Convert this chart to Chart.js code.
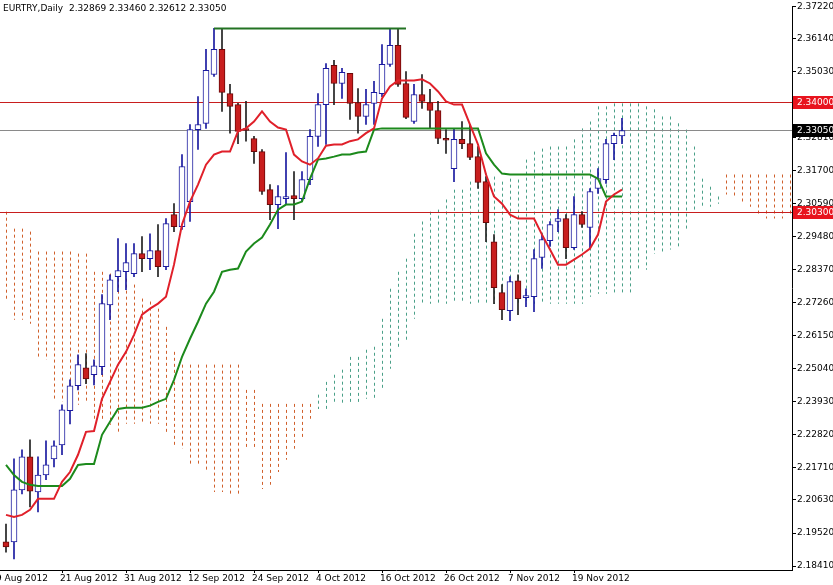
<!DOCTYPE html>
<html>
<head>
<meta charset="utf-8">
<script src="https://cdn.jsdelivr.net/npm/chart.js@4"></script>
<style>
  html, body { margin: 0; padding: 0; background: #fff; }
  canvas { display: block; }
</style>
</head>
<body>
<canvas id="chart" width="833" height="585"></canvas>
<script>
// Daily candles, index 0 = 10 Aug 2012
const opens  = [2.1922,2.1922,2.2097,2.2208,2.2090,2.2147,2.2201,2.2248,2.2363,2.2447,
                2.2507,2.2484,2.2511,2.2719,2.2814,2.2830,2.2824,2.2891,2.2874,2.2901,
                2.2847,2.3022,2.2982,2.3066,2.3308,2.3329,2.3493,2.3578,2.3429,2.3392,
                2.3308,2.3278,2.3234,2.3106,2.3056,2.3076,2.3086,2.3076,2.3140,2.3285,
                2.3392,2.3524,2.3463,2.3497,2.3399,2.3352,2.3396,2.3429,2.3527,2.3591,
                2.3463,2.3335,2.3426,2.3399,2.3372,2.3278,2.3177,2.3275,2.3261,2.3217,
                2.3133,2.2931,2.2760,2.2699,2.2800,2.2743,2.2746,2.2878,2.2935,2.2999,
                2.3009,2.2911,2.3022,2.2979,2.3110,2.3140,2.3261,2.3287];
const closes = [2.1905,2.2097,2.2208,2.2093,2.2147,2.2181,2.2245,2.2366,2.2447,2.2518,
                2.2470,2.2514,2.2723,2.2803,2.2834,2.2861,2.2891,2.2874,2.2901,2.2847,
                2.2992,2.2982,2.3184,2.3308,2.3325,2.3507,2.3578,2.3433,2.3386,2.3302,
                2.3305,2.3234,2.3100,2.3056,2.3083,2.3080,2.3076,2.3140,2.3285,2.3392,
                2.3514,2.3463,2.3500,2.3396,2.3352,2.3392,2.3433,2.3527,2.3591,2.3460,
                2.3349,2.3426,2.3403,2.3372,2.3278,2.3272,2.3275,2.3261,2.3214,2.3130,
                2.2995,2.2777,2.2703,2.2797,2.2740,2.2746,2.2874,2.2938,2.2989,2.3009,
                2.2911,2.3022,2.2989,2.3100,2.3143,2.3261,2.3289,2.3305];
const highs  = [2.1982,2.2201,2.2232,2.2265,2.2208,2.2262,2.2262,2.2383,2.2467,2.2551,
                2.2555,2.2534,2.2753,2.2820,2.2942,2.2925,2.2925,2.2948,2.2958,2.2989,
                2.3009,2.3059,2.3224,2.3325,2.3419,2.3578,2.3648,2.3648,2.3460,2.3396,
                2.3403,2.3285,2.3241,2.3123,2.3120,2.3231,2.3167,2.3167,2.3308,2.3429,
                2.3530,2.3541,2.3514,2.3497,2.3446,2.3443,2.3470,2.3594,2.3648,2.3648,
                2.3503,2.3460,2.3493,2.3443,2.3403,2.3308,2.3312,2.3335,2.3325,2.3251,
                2.3150,2.2955,2.2787,2.2814,2.2820,2.2773,2.2905,2.2955,2.2999,2.3039,
                2.3022,2.3083,2.3032,2.3110,2.3177,2.3275,2.3296,2.3346];
const lows   = [2.1888,2.1865,2.2083,2.2040,2.2023,2.2131,2.2174,2.2215,2.2319,2.2433,
                2.2454,2.2450,2.2484,2.2669,2.2763,2.2770,2.2814,2.2830,2.2837,2.2814,
                2.2837,2.2965,2.2972,2.2999,2.3241,2.3312,2.3487,2.3369,2.3296,2.3261,
                2.3269,2.3194,2.3090,2.3005,2.2975,2.3059,2.3005,2.3066,2.3123,2.3251,
                2.3258,2.3392,2.3413,2.3342,2.3296,2.3325,2.3325,2.3419,2.3520,2.3453,
                2.3345,2.3329,2.3379,2.3312,2.3261,2.3228,2.3133,2.3244,2.3207,2.3110,
                2.2931,2.2723,2.2669,2.2666,2.2686,2.2713,2.2696,2.2841,2.2915,2.2965,
                2.2874,2.2905,2.2979,2.2908,2.3093,2.3127,2.3207,2.3261];

// Ichimoku lines
const tenkan = [2.2013,2.2006,2.2013,2.2030,2.2067,2.2067,2.2067,2.2124,2.2157,2.2215,
                2.2292,2.2295,2.2403,2.2460,2.2518,2.2561,2.2618,2.2686,2.2706,2.2723,
                2.2746,2.2854,2.2989,2.3066,2.3123,2.3190,2.3224,2.3234,2.3234,2.3302,
                2.3312,2.3335,2.3369,2.3335,2.3315,2.3308,2.3224,2.3201,2.3190,2.3211,
                2.3254,2.3258,2.3258,2.3269,2.3275,2.3296,2.3312,2.3413,2.3453,2.3473,
                2.3473,2.3473,2.3477,2.3463,2.3436,2.3403,2.3392,2.3392,2.3325,2.3258,
                2.3157,2.3083,2.3059,2.3022,2.3009,2.3009,2.3009,2.2955,2.2905,2.2854,
                2.2854,2.2871,2.2888,2.2908,2.2955,2.3066,2.3090,2.3106];
const kijun  = [2.2181,2.2147,2.2124,2.2114,2.2110,2.2110,2.2110,2.2110,2.2134,2.2181,
                2.2184,2.2184,2.2282,2.2326,2.2369,2.2373,2.2373,2.2373,2.2380,2.2393,
                2.2403,2.2467,2.2544,2.2605,2.2662,2.2723,2.2763,2.2830,2.2837,2.2841,
                2.2898,2.2925,2.2945,2.2989,2.3039,2.3056,2.3056,2.3066,2.3143,2.3207,
                2.3211,2.3217,2.3224,2.3224,2.3231,2.3234,2.3308,2.3312,2.3312,2.3312,
                2.3312,2.3312,2.3312,2.3312,2.3312,2.3312,2.3312,2.3312,2.3312,2.3312,
                2.3228,2.3190,2.3160,2.3157,2.3157,2.3157,2.3157,2.3157,2.3157,2.3157,
                2.3157,2.3157,2.3157,2.3157,2.3143,2.3083,2.3083,2.3083];

// Cloud spans, index 0..98 (shifted forward)
const spanA = [2.2730,2.2669,2.2669,2.2655,2.2538,2.2534,2.2400,2.2393,2.2393,2.2383,
               2.2393,2.2336,2.2326,2.2316,2.2292,2.2319,2.2319,2.2319,2.2319,2.2319,
               2.2282,2.2248,2.2235,2.2181,2.2181,2.2157,2.2090,2.2090,2.2080,2.2080,
               2.2235,2.2235,2.2100,2.2114,2.2157,2.2198,2.2235,2.2275,2.2336,2.2417,
               2.2460,2.2484,2.2501,2.2544,2.2544,2.2568,2.2578,2.2672,2.2773,2.2830,
               2.2874,2.2958,2.2999,2.3032,2.3039,2.3073,2.3106,2.3106,2.3133,2.3160,
               2.3160,2.3150,2.3133,2.3143,2.3140,2.3207,2.3234,2.3244,2.3251,2.3251,
               2.3251,2.3275,2.3312,2.3335,2.3386,2.3386,2.3396,2.3396,2.3396,2.3396,
               2.3386,2.3376,2.3352,2.3352,2.3329,2.3308,2.3251,2.3143,2.3116,2.3083,
               2.3090,2.3083,2.3059,2.3049,2.3026,2.3009,2.3009,2.3009,2.3016];
const spanB = [2.3032,2.2975,2.2975,2.2965,2.2898,2.2898,2.2898,2.2898,2.2898,2.2891,
               2.2891,2.2830,2.2830,2.2824,2.2807,2.2807,2.2787,2.2740,2.2730,2.2706,
               2.2645,2.2561,2.2518,2.2518,2.2518,2.2518,2.2518,2.2518,2.2518,2.2518,
               2.2433,2.2433,2.2386,2.2386,2.2386,2.2386,2.2386,2.2386,2.2386,2.2369,
               2.2369,2.2383,2.2383,2.2383,2.2386,2.2403,2.2403,2.2433,2.2504,2.2571,
               2.2595,2.2672,2.2723,2.2723,2.2723,2.2723,2.2723,2.2723,2.2723,2.2723,
               2.2723,2.2723,2.2723,2.2723,2.2723,2.2723,2.2723,2.2723,2.2723,2.2723,
               2.2723,2.2723,2.2723,2.2746,2.2756,2.2756,2.2756,2.2756,2.2756,2.2837,
               2.2837,2.2891,2.2891,2.2905,2.2915,2.2972,2.3039,2.3049,2.3049,2.3059,
               2.3157,2.3157,2.3157,2.3157,2.3157,2.3157,2.3157,2.3157,2.3157];

const yTicks = [2.37220,2.36140,2.35030,2.33920,2.32810,2.31700,2.30590,2.29480,2.28370,
                2.27260,2.26150,2.25040,2.23930,2.22820,2.21710,2.20630,2.19520,2.18410];
const dateLabels = ['9 Aug 2012','21 Aug 2012','31 Aug 2012','12 Sep 2012','24 Sep 2012',
                    '4 Oct 2012','16 Oct 2012','26 Oct 2012','7 Nov 2012','19 Nov 2012'];
const dateIndex = [-1, 7, 15, 23, 31, 39, 47, 55, 63, 71];

const resistance = 2.3648;
const levels = [
    { value: 2.3400, line: '#c81e1e', box: '#e8141e', text: '2.34000' },
    { value: 2.3305, line: '#8a8a8a', box: '#000000', text: '2.33050' },
    { value: 2.3030, line: '#c81e1e', box: '#e8141e', text: '2.30300' }
];

const idx = opens.map((_, i) => i);
const bull = idx.map(i => closes[i] >= opens[i]);

const FONT = 'DejaVu Sans';

const ichimokuPlugin = {
    id: 'ichimoku',
    beforeDatasetsDraw(chart) {
        const { ctx, chartArea: a, scales: { x, y } } = chart;
        ctx.save();
        ctx.beginPath();
        ctx.rect(a.left, a.top, a.right - a.left, a.bottom - a.top);
        ctx.clip();
        // cloud as dotted verticals
        ctx.lineWidth = 1;
        ctx.setLineDash([3, 3]);
        spanA.forEach((va, i) => {
            const vb = spanB[i];
            const px = Math.round(x.getPixelForValue(i)) + 0.5;
            ctx.strokeStyle = va >= vb ? '#4aa088' : '#d0602c';
            ctx.beginPath();
            ctx.moveTo(px, y.getPixelForValue(Math.max(va, vb)));
            ctx.lineTo(px, y.getPixelForValue(Math.min(va, vb)));
            ctx.stroke();
        });
        ctx.setLineDash([]);
        // horizontal levels
        levels.forEach(l => {
            const py = Math.round(y.getPixelForValue(l.value)) + 0.5;
            ctx.strokeStyle = l.line;
            ctx.beginPath();
            ctx.moveTo(a.left, py);
            ctx.lineTo(a.right, py);
            ctx.stroke();
        });
        ctx.restore();
    },
    afterDraw(chart) {
        const { ctx, chartArea: a, scales: { x, y } } = chart;
        ctx.save();
        // price boxes on the axis
        ctx.font = '9px ' + FONT;
        ctx.textBaseline = 'middle';
        ctx.textAlign = 'left';
        levels.forEach(l => {
            const py = Math.round(y.getPixelForValue(l.value));
            ctx.fillStyle = l.box;
            ctx.fillRect(a.right + 1, py - 6, 833 - a.right, 13);
            ctx.fillStyle = '#fff';
            ctx.fillText(l.text, a.right + 5, py + 1);
        });
        // date labels
        ctx.fillStyle = '#000';
        ctx.strokeStyle = '#000';
        dateLabels.forEach((t, k) => {
            const px = Math.round(x.getPixelForValue(dateIndex[k]));
            ctx.beginPath();
            ctx.moveTo(px + 0.5, a.bottom);
            ctx.lineTo(px + 0.5, a.bottom + 3);
            ctx.stroke();
            ctx.fillText(t, px - 2, a.bottom + 9);
        });
        // title
        ctx.fillText('EURTRY,Daily  2.32869 2.33460 2.32612 2.33050', 3, 9);
        ctx.restore();
    }
};

new Chart(document.getElementById('chart'), {
    type: 'bar',
    data: {
        datasets: [
            {
                type: 'line', label: 'Tenkan', order: 0,
                data: idx.map(i => ({ x: i, y: tenkan[i] })),
                borderColor: '#e0202a', borderWidth: 2, pointRadius: 0, tension: 0
            },
            {
                type: 'line', label: 'Kijun', order: 0,
                data: idx.map(i => ({ x: i, y: kijun[i] })),
                borderColor: '#1c8a1c', borderWidth: 2, pointRadius: 0, tension: 0
            },
            {
                type: 'line', label: 'Resistance', order: 0,
                data: [{ x: 26, y: resistance }, { x: 50, y: resistance }],
                borderColor: '#237323', borderWidth: 2, pointRadius: 0
            },
            {
                label: 'Bodies', order: 1, grouped: false,
                data: idx.map(i => ({ x: i, y: [Math.min(opens[i], closes[i]), Math.max(opens[i], closes[i])] })),
                backgroundColor: bull.map(b => b ? '#ffffff' : '#c81e1e'),
                borderColor: bull.map(b => b ? '#1a1aa0' : '#6a0808'),
                borderWidth: 1, borderSkipped: false, barThickness: 6, minBarLength: 2
            },
            {
                label: 'Wicks', order: 2, grouped: false,
                data: idx.map(i => ({ x: i, y: [lows[i], highs[i]] })),
                backgroundColor: bull.map(b => b ? '#1a1aa0' : '#202020'),
                barThickness: 1
            }
        ]
    },
    options: {
        responsive: false,
        animation: false,
        devicePixelRatio: 1,
        layout: { padding: 0 },
        plugins: { legend: { display: false }, tooltip: { enabled: false } },
        scales: {
            x: {
                type: 'linear', min: -0.75, max: 98.25, offset: false,
                grid: { display: false },
                ticks: { display: false },
                border: { color: '#000' },
                afterFit: s => { s.height = 15; }
            },
            y: {
                position: 'right', min: 2.18277, max: 2.37220,
                afterBuildTicks: s => { s.ticks = yTicks.map(v => ({ value: v })); },
                grid: { drawOnChartArea: false, tickLength: 4, color: '#000' },
                border: { color: '#000' },
                ticks: {
                    color: '#000', padding: 1, font: { family: FONT, size: 9 },
                    callback: v => v.toFixed(5)
                },
                afterFit: s => { s.width = 41; }
            }
        }
    },
    plugins: [ichimokuPlugin]
});
</script>
</body>
</html>
